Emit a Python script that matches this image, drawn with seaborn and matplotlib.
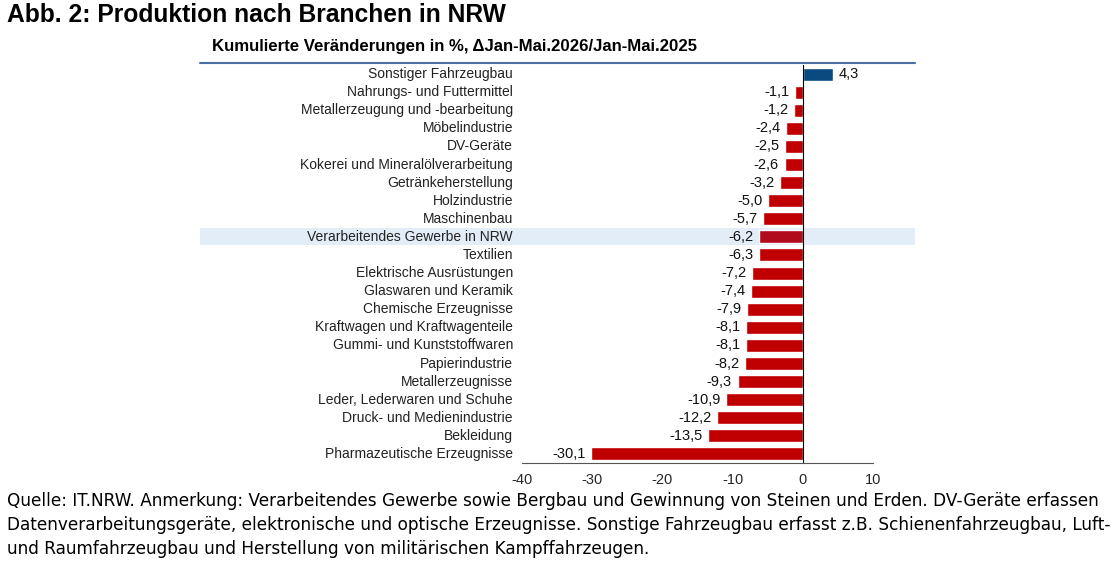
import matplotlib.pyplot as plt
import matplotlib
import seaborn as sns
import pandas as pd
from matplotlib.lines import Line2D
from matplotlib.patches import Rectangle
from matplotlib.transforms import blended_transform_factory

# data
branchen = ['Sonstiger Fahrzeugbau', 'Nahrungs- und Futtermittel', 'Metallerzeugung und -bearbeitung',
            'Möbelindustrie', 'DV-Geräte', 'Kokerei und Mineralölverarbeitung', 'Getränkeherstellung',
            'Holzindustrie', 'Maschinenbau', 'Verarbeitendes Gewerbe in NRW', 'Textilien',
            'Elektrische Ausrüstungen', 'Glaswaren und Keramik', 'Chemische Erzeugnisse',
            'Kraftwagen und Kraftwagenteile', 'Gummi- und Kunststoffwaren', 'Papierindustrie',
            'Metallerzeugnisse', 'Leder, Lederwaren und Schuhe', 'Druck- und Medienindustrie',
            'Bekleidung', 'Pharmazeutische Erzeugnisse']
veraenderung = [4.3, -1.1, -1.2, -2.4, -2.5, -2.6, -3.2, -5.0, -5.7, -6.2, -6.3, -7.2, -7.4, -7.9,
                -8.1, -8.1, -8.2, -9.3, -10.9, -12.2, -13.5, -30.1]
x_ticks = [-40, -30, -20, -10, 0, 10]
gesamt = 'Verarbeitendes Gewerbe in NRW'

titel = 'Abb. 2: Produktion nach Branchen in NRW'
untertitel = 'Kumulierte Veränderungen in %, \u0394Jan-Mai.2026/Jan-Mai.2025'
fussnote = ['Quelle: IT.NRW. Anmerkung: Verarbeitendes Gewerbe sowie Bergbau und Gewinnung von Steinen und Erden. DV-Geräte erfassen',
            'Datenverarbeitungsgeräte, elektronische und optische Erzeugnisse. Sonstige Fahrzeugbau erfasst z.B. Schienenfahrzeugbau, Luft-',
            'und Raumfahrzeugbau und Herstellung von militärischen Kampffahrzeugen.']

sns.set_style('white')
plt.rcParams['font.family'] = ['Liberation Sans', 'DejaVu Sans']

df = pd.DataFrame({'Branche': branchen, 'Wert': veraenderung})
farben = ['#0B4A80' if v > 0 else ('#B00C1C' if b == gesamt else '#C00000')
          for b, v in zip(branchen, veraenderung)]

fig = plt.figure(figsize=(11.2, 5.65), dpi=100)
ax = fig.add_axes([522 / 1120, 1 - 463 / 565, 351 / 1120, 398 / 565])

sns.barplot(data=df, x='Wert', y='Branche', hue='Branche', palette=farben, legend=False,
            orient='h', width=0.72, saturation=1, ax=ax)

for cont, v in zip(ax.containers, veraenderung):
    ax.bar_label(cont, labels=[f'{v:.1f}'.replace('.', ',')], padding=4, fontsize=10.5, color='#111111')

ax.set_xlim(-40, 10)
ax.set_ylim(len(branchen) - 0.5, -0.5)
ax.set_xticks(x_ticks)
ax.set_xticklabels([str(t) for t in x_ticks], fontsize=10.5)
ax.set_yticks([i + 0.5 for i in range(len(branchen) - 1)])
ax.set_yticklabels([])
ax.set_xlabel('')
ax.set_ylabel('')
ax.spines['top'].set_visible(False)
ax.spines['right'].set_visible(False)
ax.spines['left'].set_position(('data', 0))
ax.spines['left'].set_color('black')
ax.spines['bottom'].set_color('#555555')
ax.tick_params(axis='x', direction='out', length=4, color='#555555', pad=3)
ax.tick_params(axis='y', direction='out', length=3, color='black')

# category labels left of the plot area
tr = blended_transform_factory(fig.transFigure, ax.transData)
for i, b in enumerate(branchen):
    ax.text(513 / 1120, i, b, transform=tr, ha='right', va='center', fontsize=10, color='#222222')

# highlight band for the total
i_ges = branchen.index(gesamt)
ax.add_patch(Rectangle((200 / 1120, i_ges - 0.47), 715 / 1120, 0.94, transform=tr,
                       facecolor='#E3EDF8', edgecolor='none', zorder=0, clip_on=False))

fig.add_artist(Line2D([200 / 1120, 915 / 1120], [1 - 63 / 565] * 2, color='#4A6FA5', lw=1.5))

fig.text(7 / 1120, 1 - 15 / 565, titel, fontsize=17.7, fontweight='bold', va='center', ha='left',
         color='black')
fig.text(212 / 1120, 1 - 47 / 565, untertitel, fontsize=12.1, fontweight='bold', va='center', ha='left',
         color='black')
for k, zeile in enumerate(fussnote):
    fig.text(7 / 1120, 1 - (501 + 24 * k) / 565, zeile, fontsize=12.2, va='center', ha='left',
             family=['DejaVu Sans'], color='black')

fig.savefig('out.png', dpi=100)
